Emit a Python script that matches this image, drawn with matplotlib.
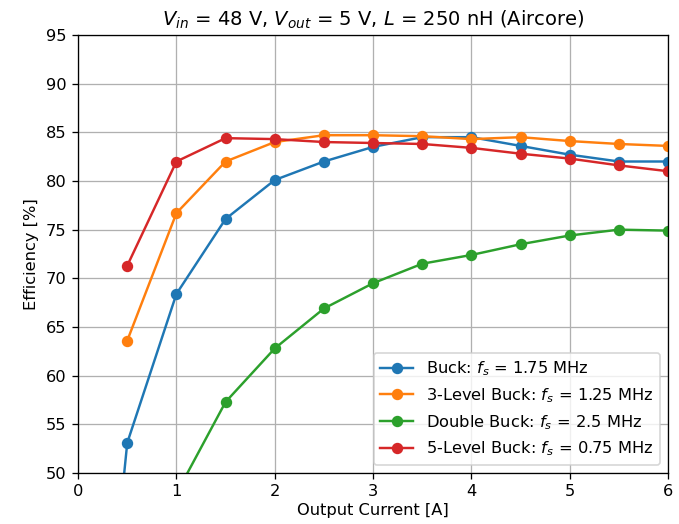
import numpy as np
import matplotlib
matplotlib.use("Agg")
import matplotlib.pyplot as plt

# output current [A]
i_out = [0.25, 0.5, 1.0, 1.5, 2.0, 2.5, 3.0, 3.5, 4.0, 4.5, 5.0, 5.5, 6.0]

# efficiency [%]
eff_buck = [28.0, 53.1, 68.4, 76.1, 80.1, 82.0, 83.5, 84.5, 84.5, 83.6, 82.7, 82.0, 82.0]
eff_3lvl = [np.nan, 63.6, 76.7, 82.0, 84.0, 84.7, 84.7, 84.6, 84.3, 84.5, 84.1, 83.8, 83.6]
eff_double = [30.0, 40.0, 47.9, 57.3, 62.8, 66.9, 69.5, 71.5, 72.4, 73.5, 74.4, 75.0, 74.9]
eff_5lvl = [np.nan, 71.3, 82.0, 84.4, 84.3, 84.0, 83.9, 83.8, 83.4, 82.8, 82.3, 81.6, 81.0]

labels = [r'Buck: $f_s$ = 1.75 MHz',
          r'3-Level Buck: $f_s$ = 1.25 MHz',
          r'Double Buck: $f_s$ = 2.5 MHz',
          r'5-Level Buck: $f_s$ = 0.75 MHz']

dpi = 117
fig = plt.figure(figsize=(679 / dpi, 524 / dpi), dpi=dpi)
ax = fig.add_axes([0.115, 0.0973, 0.869, 0.836])

for eff, lab in zip([eff_buck, eff_3lvl, eff_double, eff_5lvl], labels):
    ax.plot(i_out, eff, marker='o', label=lab)

ax.set_xlim(0, 6)
ax.set_ylim(50, 95)
ax.set_xticks(range(0, 7))
ax.set_yticks(range(50, 96, 5))
ax.grid(True)
ax.set_xlabel('Output Current [A]', labelpad=2)
ax.set_ylabel('Efficiency [%]')
ax.set_title(r'$V_{in}$ = 48 V, $V_{out}$ = 5 V, $L$ = 250 nH (Aircore)')
ax.legend(loc='lower right')

fig.savefig('out.png', dpi=dpi)
